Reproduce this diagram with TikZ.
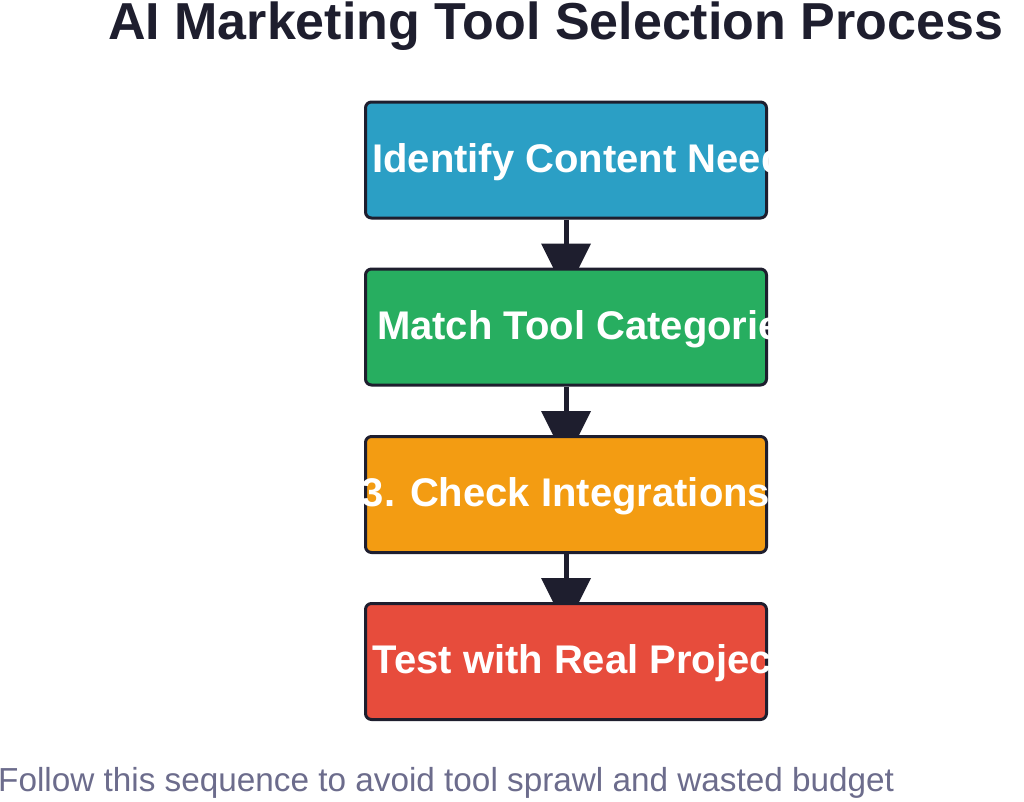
\documentclass[tikz,border=0pt]{standalone}
\usepackage{fontspec}
\setmainfont{Liberation Sans}
\usetikzlibrary{calc}
\pgfdeclarelayer{bg}
\pgfdeclarelayer{paper}
\pgfsetlayers{paper,bg,main}
\definecolor{ink}{HTML}{1E1E2E}
\definecolor{foot}{HTML}{6C6C8C}
\definecolor{cblue}{HTML}{2B9FC5}
\definecolor{cgreen}{HTML}{27AE60}
\definecolor{corange}{HTML}{F39C12}
\definecolor{cred}{HTML}{E74C3C}
\tikzset{
  stepbox/.style={draw=ink, line width=3pt, rounded corners=6pt, minimum width=401pt, minimum height=116pt, inner sep=0pt},
  steptext/.style={text=white, font=\bfseries\fontsize{40pt}{46pt}\selectfont, inner sep=0pt, anchor=base},
  conn/.style={draw=ink, line width=5pt},
  head/.style={fill=ink}
}
\begin{document}
\begin{tikzpicture}[x=1pt,y=-1pt]
\useasboundingbox (0,0) rectangle (1024,801);
\begin{pgfonlayer}{paper}
\fill[white] (0,0) rectangle (1024,801);
\end{pgfonlayer}
\node[anchor=base west, inner sep=0pt, text=ink, font=\bfseries\fontsize{52pt}{60pt}\selectfont] (title) at (108,39.5) {AI Marketing Tool Selection Process};
\node[stepbox, fill=cblue] (n1) at (566,160) {};
\node[stepbox, fill=cgreen] (n2) at (566,327) {};
\node[stepbox, fill=corange] (n3) at (566,494.5) {};
\node[stepbox, fill=cred] (n4) at (566,661.5) {};
\begin{scope}
\clip (n1.south west) rectangle (n1.north east);
\node[steptext] (t1) at ($(n1.center)+(0,12)$) {1. Identify Content Needs};
\end{scope}
\begin{scope}
\clip (n2.south west) rectangle (n2.north east);
\node[steptext] (t2) at ($(n2.center)+(0,12)$) {2. Match Tool Categories};
\end{scope}
\begin{scope}
\clip (n3.south west) rectangle (n3.north east);
\node[steptext] (t3) at ($(n3.center)+(0,12)$) {3. Check Integrations};
\end{scope}
\begin{scope}
\clip (n4.south west) rectangle (n4.north east);
\node[steptext] (t4) at ($(n4.center)+(0,12)$) {4. Test with Real Projects};
\end{scope}
\begin{pgfonlayer}{bg}
\foreach \a/\b in {n1/n2, n2/n3, n3/n4}{
  \draw[conn] (\a.south) -- ($(\b.north)+(0,-22)$);
  \fill[head] ($(\b.north)+(-25,-24)$) -- ($(\b.north)+(25,-24)$) -- ($(\b.north)+(0,26)$) -- cycle;
}
\end{pgfonlayer}
\node[anchor=base west, inner sep=0pt, text=foot, font=\fontsize{33.3pt}{40pt}\selectfont] (foot) at (-2,791) {Follow this sequence to avoid tool sprawl and wasted budget};
\end{tikzpicture}
\end{document}
